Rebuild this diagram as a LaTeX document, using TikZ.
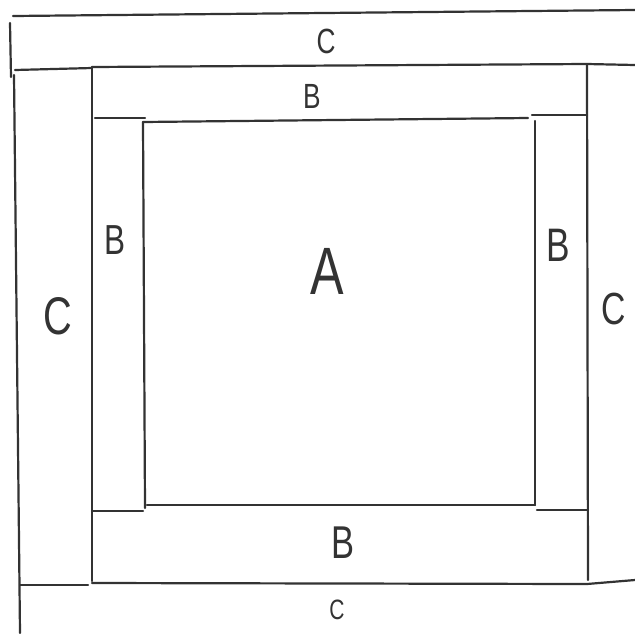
\documentclass[tikz,border=0pt]{standalone}
\usepackage{fontspec}
\setmainfont{Liberation Sans}
\begin{document}
\begin{tikzpicture}[x=1pt,y=-1pt,
  pen/.style={draw=black!80,line width=2.2pt,line cap=round,line join=round},
  lbl/.style={inner sep=0pt,text=black!80,xscale=0.75,font=\fontsize{#1}{#1}\selectfont},
  lbl/.default=35]
\useasboundingbox (0,0) rectangle (635,633);
% C frame
\draw[pen] (13,16) -- (635,10);
\draw[pen] (10,23) -- (11,77);
\draw[pen] (15,70) -- (92,68);
\draw[pen] (92,67) -- (587,64) -- (635,65);
\draw[pen] (14,75) -- (20,633);
\draw[pen] (20,585) -- (88,585);
\draw[pen] (92,583) -- (587,584) -- (635,580);
% B frame
\draw[pen] (92,67) -- (92,581);
\draw[pen] (587,65) -- (588,580);
\draw[pen] (95,118) -- (145,118);
\draw[pen] (532,115) -- (587,115);
\draw[pen] (92,511) -- (143,511);
\draw[pen] (537,510) -- (588,510);
% A square
\draw[pen] (143,122) -- (528,118);
\draw[pen] (143,122) -- (145,508);
\draw[pen] (535,121) -- (535,505);
\draw[pen] (147,505) -- (535,505);
% labels
\node[lbl=35] (cTop) at (326,41) {C};
\node[lbl=35] (bTop) at (312,96) {B};
\node[lbl=67] (a) at (327,271) {A};
\node[lbl=42] (bLeft) at (115,240) {B};
\node[lbl=47] (bRight) at (558,245) {B};
\node[lbl=53] (cLeft) at (58,316) {C};
\node[lbl=45] (cRight) at (614,309) {C};
\node[lbl=46] (bBottom) at (343,543) {B};
\node[lbl=28] (cBottom) at (337,610) {C};
\end{tikzpicture}
\end{document}
